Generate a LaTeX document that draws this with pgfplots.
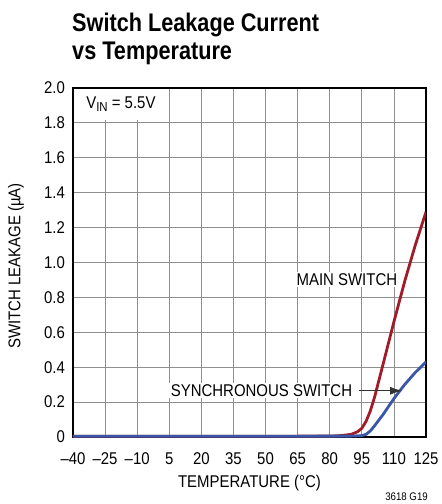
\documentclass[border=0pt]{standalone}
\usepackage{fontspec}
\setmainfont{Liberation Sans}[FakeStretch=0.88]
\newfontfamily\titlefont{Liberation Sans}[FakeStretch=0.85]
\usepackage{pgfplots}
\pgfplotsset{compat=1.18}
\usetikzlibrary{arrows.meta}
\definecolor{mainred}{HTML}{A01C28}
\definecolor{syncblue}{HTML}{3A56A6}
\definecolor{gridgray}{HTML}{8F8F8F}
\begin{document}
\begin{tikzpicture}
\path[use as bounding box] (-73pt,-67pt) rectangle (369pt,437pt);
\node[anchor=base west, inner sep=0pt, font=\titlefont\fontsize{25.5}{30}\selectfont\bfseries] at (-1pt,405pt) {Switch Leakage Current};
\node[anchor=base west, inner sep=0pt, font=\titlefont\fontsize{25.5}{30}\selectfont\bfseries] at (-1pt,377pt) {vs Temperature};
\node[anchor=base east, inner sep=0pt, font=\fontsize{11}{13}\selectfont] at (355pt,-63pt) {3618 G19};
\begin{axis}[
  at={(0pt,0pt)}, anchor=south west,
  scale only axis, width=353pt, height=349pt,
  xmin=-40, xmax=125, ymin=0, ymax=2,
  xtick={-40,-25,-10,5,20,35,50,65,80,95,110,125},
  xticklabels={--40,--25,--10,5,20,35,50,65,80,95,110,125},
  ytick={0,0.2,0.4,0.6,0.8,1.0,1.2,1.4,1.6,1.8,2.0},
  yticklabels={0,0.2,0.4,0.6,0.8,1.0,1.2,1.4,1.6,1.8,2.0},
  grid=major,
  major grid style={gridgray, line width=0.8pt},
  major tick length=0pt,
  axis line style={black, line width=1.2pt},
  ticklabel style={font=\fontsize{17}{20}\selectfont},
  xticklabel style={anchor=base, yshift=-27pt},
  yticklabel style={anchor=east, xshift=-4.5pt},
  xlabel={TEMPERATURE (°C)},
  ylabel={SWITCH LEAKAGE (µA)},
  label style={font=\fontsize{17}{20}\selectfont},
  xlabel style={at={(axis description cs:0.5,0)}, anchor=base, yshift=-50pt},
  ylabel style={at={(axis description cs:0,0.49)}, anchor=center, yshift=57pt},
]
\addplot[mainred, line width=2.8pt, line join=round] coordinates {
(-40,0.004) (80,0.005) (85,0.008) (90,0.015) (93,0.03) (95,0.05) (97,0.09) (99,0.15) (101,0.23) (105,0.42) (110,0.66) (115,0.89) (120,1.10) (125,1.29)};
\addplot[syncblue, line width=2.8pt, line join=round] coordinates {
(-40,0.004) (90,0.005) (95,0.008) (97,0.015) (99,0.035) (101,0.065) (105,0.13) (110,0.22) (115,0.30) (120,0.37) (125,0.43)};
\node[fill=white, inner sep=1.5pt, font=\fontsize{17}{20}\selectfont] at (axis cs:88,0.9) {MAIN SWITCH};
\node[fill=white, inner sep=1.5pt, font=\fontsize{17}{20}\selectfont] at (axis cs:48.1,0.265) {SYNCHRONOUS SWITCH};
\draw[black!80, line width=0.8pt, -{Latex[length=12pt,width=8pt]}] (axis cs:93.5,0.265) -- (axis cs:113.8,0.265);
\node[fill=white, anchor=north west, minimum width=94pt, minimum height=31pt, inner sep=0pt, font=\fontsize{17}{20}\selectfont] at ([xshift=0.7pt,yshift=-0.7pt]axis description cs:0,1) {V\raisebox{-0.35ex}{\fontsize{13}{14}\selectfont IN} = 5.5V};
\end{axis}
\end{tikzpicture}
\end{document}
